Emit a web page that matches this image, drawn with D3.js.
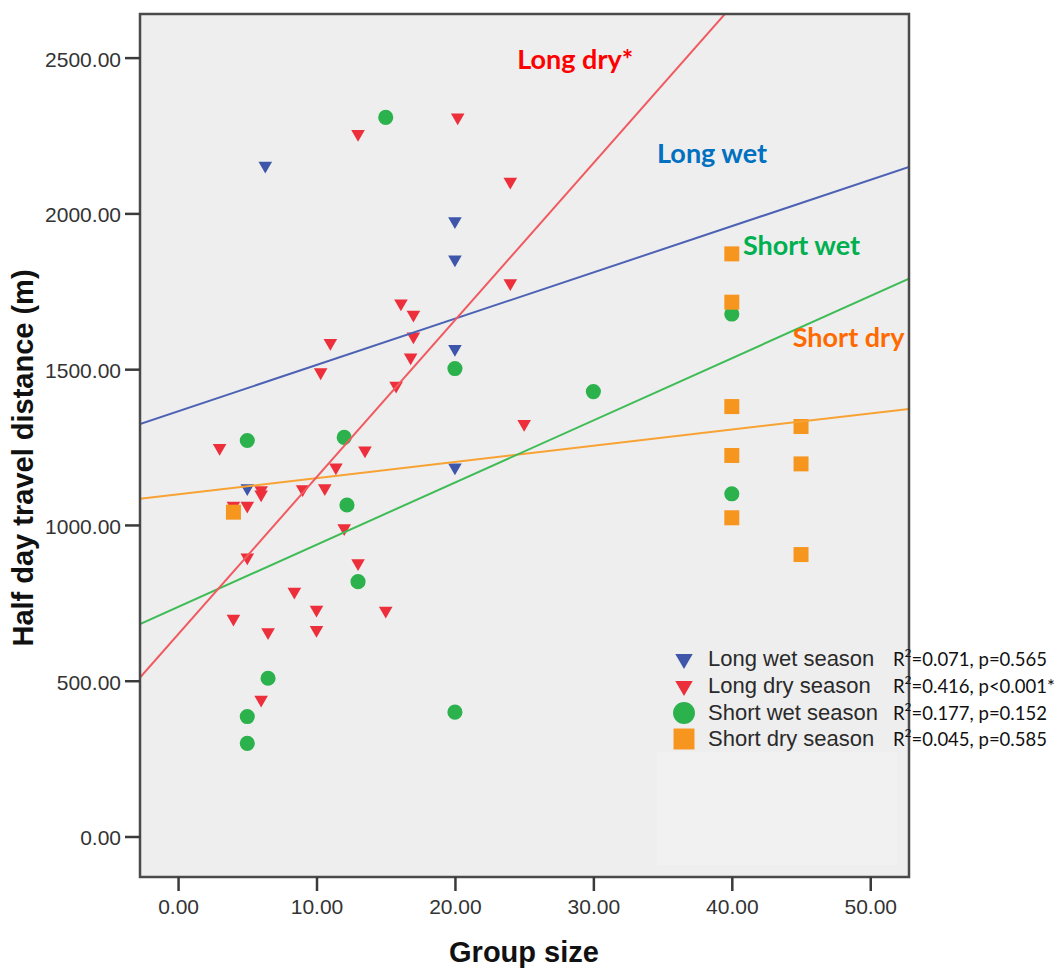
<!DOCTYPE html>
<html>
<head>
<meta charset="utf-8">
<script src="https://cdn.jsdelivr.net/npm/d3@7"></script>
<style>
  html, body { margin: 0; padding: 0; background: #ffffff; }
  svg { display: block; }
</style>
</head>
<body>
<svg id="chart" width="1062" height="970"></svg>
<script>
// ---------- data ----------
const longWetX  = [5, 6.3, 20, 20, 20, 20];
const longWetY  = [1118, 2153, 1975, 1852, 1565, 1185];

const longDryX  = [13, 20.2, 24, 24, 16.1, 17, 17, 11, 16.8, 15.75, 10.3, 25, 3, 13.5, 11.4, 6, 6, 9, 10.6, 5, 4, 12, 5, 13, 8.4, 10, 15, 4, 6.5, 10, 6];
const longDryY  = [2255, 2308, 2102, 1776, 1711, 1675, 1605, 1584, 1538, 1447, 1490, 1324, 1247, 1239, 1185, 1112, 1098, 1115, 1118, 1062, 1062, 990, 896, 877, 786, 728, 725, 699, 656, 663, 439];

const shortWetX = [15, 20, 5, 12, 12.2, 13, 6.5, 5, 5, 20, 30, 40, 40];
const shortWetY = [2308, 1502, 1271, 1281, 1064, 818, 508, 385, 299, 399, 1428, 1100, 1677];

const shortDryX = [40, 40, 40, 40, 40, 45, 45, 45, 4];
const shortDryY = [1870, 1715, 1380, 1223, 1023, 1316, 1196, 905, 1041];

// fit lines: intercept and slope
const seriesNames     = ["Long wet season", "Long dry season", "Short wet season", "Short dry season"];
const fitIntercepts   = [1365, 649, 737, 1098];
const fitSlopes       = [14.85, 50.4, 19.95, 5.2];
const rSquared        = ["0.071", "0.416", "0.177", "0.045"];
const pValues         = ["p=0.565", "p<0.001*", "p=0.152", "p=0.585"];

const lineLabels  = ["Long wet", "Long dry*", "Short wet", "Short dry"];
const lineLabelX  = [34.6, 24.5, 40.8, 44.4];
const lineLabelY  = [2161, 2462, 1867, 1570];

const xTicks = [0, 10, 20, 30, 40, 50];
const yTicks = [0, 500, 1000, 1500, 2000, 2500];

// ---------- styles ----------
const markerColors = ["#3d56aa", "#ec2f3a", "#2bb24c", "#f7961f"];
const lineColors   = ["#4d62b4", "#f05a60", "#3fbc56", "#f7a233"];
const labelColors  = ["#0070c0", "#ff0000", "#00b050", "#ff6a00"];
const symbolTypes  = ["tri", "tri", "circle", "square"];

const svg = d3.select("#chart");
const L = 140, R = 909, T = 14, B = 877;

const x = d3.scaleLinear().domain([-2.75, 52.8]).range([L, R]);
const y = d3.scaleLinear().domain([-130, 2640]).range([B, T]);

// plot background
svg.append("rect").attr("x", L).attr("y", T).attr("width", R - L).attr("height", B - T)
  .attr("fill", "#eeeeee");
// legend pane (slightly lighter)
svg.append("rect").attr("x", 657).attr("y", 752).attr("width", 240).attr("height", 113)
  .attr("fill", "#f1f1f1");

svg.append("clipPath").attr("id", "clip").append("rect")
  .attr("x", L).attr("y", T).attr("width", R - L).attr("height", B - T);

// ---------- markers ----------
function symPath(type, scale) {
  const k = scale || 1;
  if (type === "tri") return d3.symbol().type(d3.symbolTriangle).size(80 * k)();
  if (type === "circle") return d3.symbol().type(d3.symbolCircle).size(180 * k)();
  return d3.symbol().type(d3.symbolSquare).size(225 * k)();
}
function symTransform(type, px, py) {
  return type === "tri" ? `translate(${px},${py}) rotate(180)` : `translate(${px},${py})`;
}

const seriesXs = [longWetX, longDryX, shortWetX, shortDryX];
const seriesYs = [longWetY, longDryY, shortWetY, shortDryY];
const drawOrder = [2, 1, 0, 3];
const markG = svg.append("g").attr("clip-path", "url(#clip)");
drawOrder.forEach(i => {
  const pts = seriesXs[i].map((v, k) => [v, seriesYs[i][k]]);
  markG.selectAll(null).data(pts).enter().append("path")
    .attr("d", symPath(symbolTypes[i]))
    .attr("transform", d => symTransform(symbolTypes[i], x(d[0]), y(d[1])))
    .attr("fill", markerColors[i]);
});

// ---------- fit lines ----------
const lineG = svg.append("g").attr("clip-path", "url(#clip)");
const xd = x.domain();
[3, 2, 0, 1].forEach(i => {
  const pts = xd.map(v => [v, fitIntercepts[i] + fitSlopes[i] * v]);
  lineG.append("path")
    .attr("d", d3.line().x(d => x(d[0])).y(d => y(d[1]))(pts))
    .attr("stroke", lineColors[i]).attr("stroke-width", 2).attr("fill", "none");
});

// ---------- line labels ----------
lineLabels.forEach((t, i) => {
  svg.append("text").attr("x", x(lineLabelX[i])).attr("y", y(lineLabelY[i]))
    .attr("font-family", "Lato, 'Open Sans', sans-serif").attr("font-weight", "bold")
    .attr("font-size", 27).attr("fill", labelColors[i]).text(t);
});

// ---------- frame ----------
svg.append("rect").attr("x", L).attr("y", T).attr("width", R - L).attr("height", B - T)
  .attr("fill", "none").attr("stroke", "#4a4a4a").attr("stroke-width", 2.5);

// ---------- axes ----------
const yAxis = d3.axisLeft(y).tickValues(yTicks).tickFormat(d3.format(".2f"))
  .tickSize(15).tickPadding(4).tickSizeOuter(0);
const gy = svg.append("g").attr("transform", `translate(${L},0)`).call(yAxis);
gy.select(".domain").remove();
gy.selectAll(".tick line").attr("stroke", "#3a3a3a").attr("stroke-width", 2.5);
gy.selectAll(".tick text").attr("font-family", "'Liberation Sans', Arial, sans-serif")
  .attr("font-size", 21).attr("fill", "#333").attr("dy", "0.4em");

const xAxis = d3.axisBottom(x).tickValues(xTicks).tickFormat(d3.format(".2f"))
  .tickSize(14).tickPadding(8).tickSizeOuter(0);
const gx = svg.append("g").attr("transform", `translate(0,${B})`).call(xAxis);
gx.select(".domain").remove();
gx.selectAll(".tick line").attr("stroke", "#3a3a3a").attr("stroke-width", 2.5);
gx.selectAll(".tick text").attr("font-family", "'Liberation Sans', Arial, sans-serif")
  .attr("font-size", 21).attr("fill", "#333");

// axis titles
svg.append("text").attr("x", 524).attr("y", 962).attr("text-anchor", "middle")
  .attr("font-family", "'Liberation Sans', Arial, sans-serif").attr("font-weight", "bold")
  .attr("font-size", 29).attr("fill", "#111").text("Group size");
svg.append("text").attr("transform", "translate(33,458) rotate(-90)").attr("text-anchor", "middle")
  .attr("font-family", "'Liberation Sans', Arial, sans-serif").attr("font-weight", "bold")
  .attr("font-size", 29).attr("fill", "#111").text("Half day travel distance (m)");

// ---------- legend ----------
const legY = [658, 685, 712, 738];
const legScale = [1.65, 1.65, 2.1, 1.95];
seriesNames.forEach((name, i) => {
  svg.append("path").attr("d", symPath(symbolTypes[i], legScale[i]))
    .attr("transform", symTransform(symbolTypes[i], 684, legY[i] + 1))
    .attr("fill", markerColors[i]);
  svg.append("text").attr("x", 708).attr("y", legY[i] + 8)
    .attr("font-family", "'Liberation Sans', Arial, sans-serif").attr("font-size", 22)
    .attr("fill", "#2a2a2a").text(name);
  const t = svg.append("text").attr("x", 893).attr("y", legY[i] + 8)
    .attr("font-family", "Lato, 'Open Sans', sans-serif").attr("font-size", 18.5).attr("fill", "#111");
  t.append("tspan").text("R");
  t.append("tspan").attr("dy", -9).attr("font-size", 12).text("2");
  t.append("tspan").attr("dy", 9).text("=" + rSquared[i] + ", " + pValues[i]);
});
</script>
</body>
</html>
